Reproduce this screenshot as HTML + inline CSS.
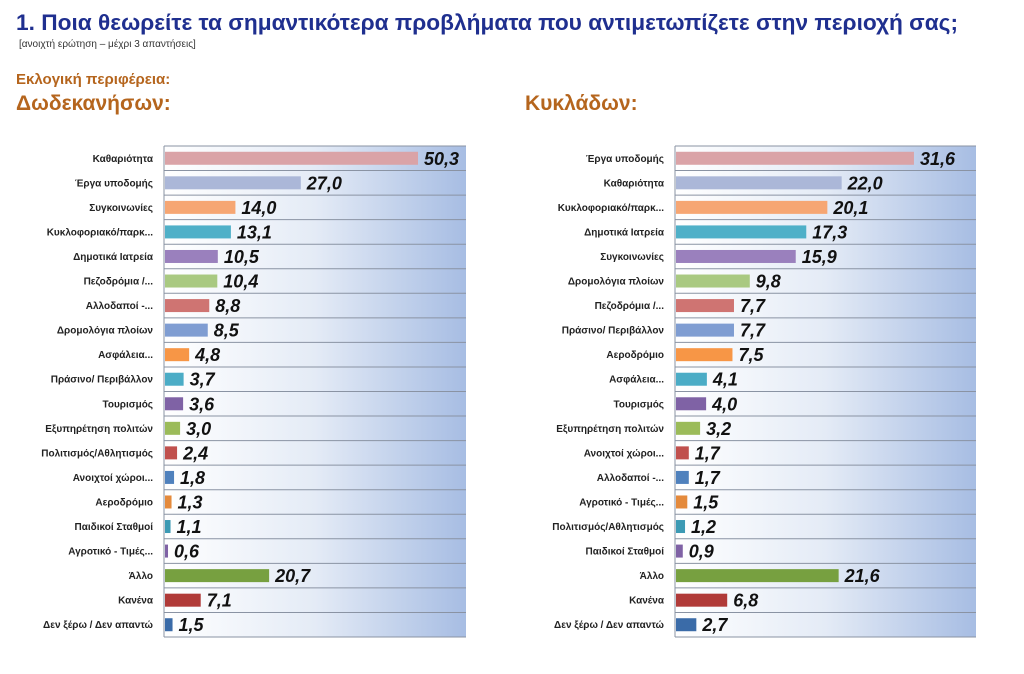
<!DOCTYPE html>
<html><head><meta charset="utf-8"><style>
body{margin:0;background:#fff;width:1024px;height:669px;overflow:hidden;font-family:"Liberation Sans","DejaVu Sans",sans-serif;}
</style></head><body>
<svg width="1024" height="669" xmlns="http://www.w3.org/2000/svg">
<defs><linearGradient id="g" x1="0" x2="1" y1="0" y2="0"><stop offset="0" stop-color="#ffffff"/><stop offset="0.5" stop-color="#e4ebf6"/><stop offset="1" stop-color="#a7bde3"/></linearGradient></defs>
<text x="16" y="30" font-size="22" font-weight="bold" fill="#1f2f8f" textLength="942" lengthAdjust="spacingAndGlyphs">1. Ποια θεωρείτε τα σημαντικότερα προβλήματα που αντιμετωπίζετε στην περιοχή σας;</text>
<text x="19" y="47" font-size="10" fill="#333">[ανοιχτή ερώτηση – μέχρι 3 απαντήσεις]</text>
<text x="16" y="84" font-size="15" font-weight="bold" fill="#b5651d">Εκλογική περιφέρεια:</text>
<text x="16" y="110" font-size="21" font-weight="bold" fill="#b5651d">Δωδεκανήσων:</text>
<text x="525" y="110" font-size="21" font-weight="bold" fill="#b5651d">Κυκλάδων:</text>
<g id="c"></g>
</svg>
<script>
var L=[["Καθαριότητα",50.3,"#daa3a7"],["Έργα υποδομής",27.0,"#abb7d8"],["Συγκοινωνίες",14.0,"#f6a673"],["Κυκλοφοριακό/παρκ...",13.1,"#4fb0c8"],["Δημοτικά Ιατρεία",10.5,"#9a80bd"],["Πεζοδρόμια /...",10.4,"#a9c981"],["Αλλοδαποί -...",8.8,"#cf7472"],["Δρομολόγια πλοίων",8.5,"#7f9dd2"],["Ασφάλεια...",4.8,"#f79646"],["Πράσινο/ Περιβάλλον",3.7,"#4bacc6"],["Τουρισμός",3.6,"#7f62a5"],["Εξυπηρέτηση πολιτών",3.0,"#9bbb59"],["Πολιτισμός/Αθλητισμός",2.4,"#c0504d"],["Ανοιχτοί χώροι...",1.8,"#4f81bd"],["Αεροδρόμιο",1.3,"#e48a3c"],["Παιδικοί Σταθμοί",1.1,"#3c9ab4"],["Αγροτικό - Τιμές...",0.6,"#7f62a5"],["Άλλο",20.7,"#77a040"],["Κανένα",7.1,"#b03a38"],["Δεν ξέρω / Δεν απαντώ",1.5,"#3a6ba8"]];
var R=[["Έργα υποδομής",31.6,"#daa3a7"],["Καθαριότητα",22.0,"#abb7d8"],["Κυκλοφοριακό/παρκ...",20.1,"#f6a673"],["Δημοτικά Ιατρεία",17.3,"#4fb0c8"],["Συγκοινωνίες",15.9,"#9a80bd"],["Δρομολόγια πλοίων",9.8,"#a9c981"],["Πεζοδρόμια /...",7.7,"#cf7472"],["Πράσινο/ Περιβάλλον",7.7,"#7f9dd2"],["Αεροδρόμιο",7.5,"#f79646"],["Ασφάλεια...",4.1,"#4bacc6"],["Τουρισμός",4.0,"#7f62a5"],["Εξυπηρέτηση πολιτών",3.2,"#9bbb59"],["Ανοιχτοί χώροι...",1.7,"#c0504d"],["Αλλοδαποί -...",1.7,"#4f81bd"],["Αγροτικό - Τιμές...",1.5,"#e48a3c"],["Πολιτισμός/Αθλητισμός",1.2,"#3c9ab4"],["Παιδικοί Σταθμοί",0.9,"#7f62a5"],["Άλλο",21.6,"#77a040"],["Κανένα",6.8,"#b03a38"],["Δεν ξέρω / Δεν απαντώ",2.7,"#3a6ba8"]];
var s="";
function chart(d,x0,x1,sc){
 var top=146,h=(637-top)/d.length;
 s+='<rect x="'+x0+'" y="'+top+'" width="'+(x1-x0)+'" height="'+(637-top)+'" fill="url(#g)"/>';
 for(var i=0;i<=d.length;i++){var y=top+i*h;s+='<line x1="'+x0+'" x2="'+x1+'" y1="'+y+'" y2="'+y+'" stroke="#8a93a3" stroke-width="1"/>';}
 s+='<line x1="'+x0+'" x2="'+x0+'" y1="'+top+'" y2="637" stroke="#8a93a3"/>';
 d.forEach(function(r,i){var cy=top+h*i+h/2;var w=r[1]*sc;
  s+='<text x="'+(x0-11)+'" y="'+(cy+3.5)+'" font-size="10" font-weight="bold" text-anchor="end" fill="#222">'+r[0]+'</text>';
  s+='<rect x="'+(x0+1)+'" y="'+(cy-6.5)+'" width="'+w+'" height="13" fill="'+r[2]+'"/>';
  s+='<text x="'+(x0+w+7)+'" y="'+(cy+6.5)+'" font-size="18" font-weight="bold" font-style="italic" fill="#111">'+r[1].toFixed(1).replace(".",",")+'</text>';});
}
chart(L,164,466,5.03);chart(R,675,976,7.53);
document.getElementById("c").innerHTML=s;
</script>
</body></html>
